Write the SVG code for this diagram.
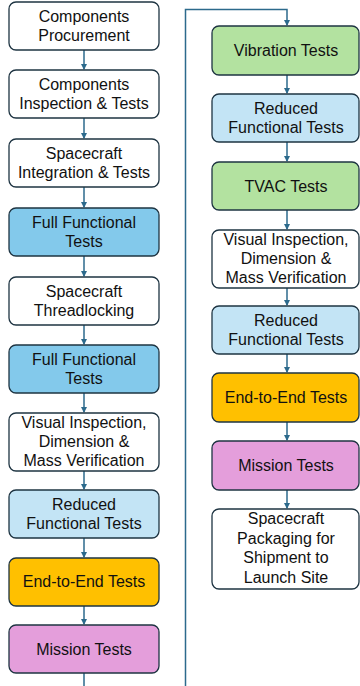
<svg xmlns="http://www.w3.org/2000/svg" width="360" height="686" viewBox="0 0 360 686">
<defs>
<marker id="ah" markerWidth="6" markerHeight="6" refX="5" refY="3" orient="auto" markerUnits="userSpaceOnUse">
<path d="M0,0 L6,3 L0,6 Z" fill="#2C6A8C"/>
</marker>
<style>
.b{stroke:#1E3442;stroke-width:1.3}
.w{fill:#FFFFFF}.g{fill:#B3E2A0}.lb{fill:#C3E4F5}.fb{fill:#83C9EB}.o{fill:#FFC000}.p{fill:#E49EDB}
text{font-family:"Liberation Sans",Arial,sans-serif;font-size:16px;fill:#111;text-anchor:middle}
.c{fill:none;stroke:#2C6A8C;stroke-width:1.5}
</style>
</defs>
<rect width="360" height="686" fill="#FFFFFF"/>
<g id="connectors">
<path class="c" d="M84,50 V69" marker-end="url(#ah)"/>
<path class="c" d="M84,118 V138" marker-end="url(#ah)"/>
<path class="c" d="M84,187 V207" marker-end="url(#ah)"/>
<path class="c" d="M84,256 V276" marker-end="url(#ah)"/>
<path class="c" d="M84,325 V344" marker-end="url(#ah)"/>
<path class="c" d="M84,393 V412" marker-end="url(#ah)"/>
<path class="c" d="M84,471 V489" marker-end="url(#ah)"/>
<path class="c" d="M84,538 V557" marker-end="url(#ah)"/>
<path class="c" d="M84,606 V624" marker-end="url(#ah)"/>
<path class="c" d="M84,673 V700 H185.5 V9.5 H287 V25" marker-end="url(#ah)"/>
<path class="c" d="M287,75 V93" marker-end="url(#ah)"/>
<path class="c" d="M287,142 V161" marker-end="url(#ah)"/>
<path class="c" d="M287,210 V229" marker-end="url(#ah)"/>
<path class="c" d="M287,288 V305" marker-end="url(#ah)"/>
<path class="c" d="M287,354 V372" marker-end="url(#ah)"/>
<path class="c" d="M287,422 V440" marker-end="url(#ah)"/>
<path class="c" d="M287,490 V508" marker-end="url(#ah)"/>
</g>
<g id="n1"><rect class="b w" x="9" y="2" width="150" height="48" rx="7"/><text x="84" y="22">Components</text><text x="84" y="41">Procurement</text></g>
<g id="n2"><rect class="b w" x="9" y="70" width="150" height="48" rx="7"/><text x="84" y="90">Components</text><text x="84" y="109">Inspection &amp; Tests</text></g>
<g id="n3"><rect class="b w" x="9" y="139" width="150" height="48" rx="7"/><text x="84" y="159">Spacecraft</text><text x="84" y="178">Integration &amp; Tests</text></g>
<g id="n4"><rect class="b fb" x="9" y="208" width="150" height="48" rx="7"/><text x="84" y="228">Full Functional</text><text x="84" y="247">Tests</text></g>
<g id="n5"><rect class="b w" x="9" y="277" width="150" height="48" rx="7"/><text x="84" y="297">Spacecraft</text><text x="84" y="316">Threadlocking</text></g>
<g id="n6"><rect class="b fb" x="9" y="345" width="150" height="48" rx="7"/><text x="84" y="365">Full Functional</text><text x="84" y="384">Tests</text></g>
<g id="n7"><rect class="b w" x="9" y="413" width="150" height="58" rx="7"/><text x="84" y="428">Visual Inspection,</text><text x="84" y="447">Dimension &amp;</text><text x="84" y="466">Mass Verification</text></g>
<g id="n8"><rect class="b lb" x="9" y="490" width="150" height="48" rx="7"/><text x="84" y="510">Reduced</text><text x="84" y="529">Functional Tests</text></g>
<g id="n9"><rect class="b o" x="9" y="558" width="150" height="48" rx="7"/><text x="84" y="587">End-to-End Tests</text></g>
<g id="n10"><rect class="b p" x="9" y="625" width="150" height="48" rx="7"/><text x="84" y="655">Mission Tests</text></g>
<g id="r1"><rect class="b g" x="212" y="26" width="147" height="49" rx="7"/><text x="286" y="56">Vibration Tests</text></g>
<g id="r2"><rect class="b lb" x="212" y="94" width="147" height="48" rx="7"/><text x="286" y="114">Reduced</text><text x="286" y="133">Functional Tests</text></g>
<g id="r3"><rect class="b g" x="212" y="162" width="147" height="48" rx="7"/><text x="286" y="192">TVAC Tests</text></g>
<g id="r4"><rect class="b w" x="212" y="230" width="147" height="58" rx="7"/><text x="286" y="245">Visual Inspection,</text><text x="286" y="264">Dimension &amp;</text><text x="286" y="283">Mass Verification</text></g>
<g id="r5"><rect class="b lb" x="212" y="306" width="147" height="48" rx="7"/><text x="286" y="326">Reduced</text><text x="286" y="345">Functional Tests</text></g>
<g id="r6"><rect class="b o" x="212" y="373" width="147" height="49" rx="7"/><text x="286" y="403">End-to-End Tests</text></g>
<g id="r7"><rect class="b p" x="212" y="441" width="147" height="49" rx="7"/><text x="286" y="471">Mission Tests</text></g>
<g id="r8"><rect class="b w" x="212" y="509" width="147" height="80" rx="7"/><text x="286" y="524">Spacecraft</text><text x="286" y="544">Packaging for</text><text x="286" y="563">Shipment to</text><text x="286" y="583">Launch Site</text></g>
</svg>
